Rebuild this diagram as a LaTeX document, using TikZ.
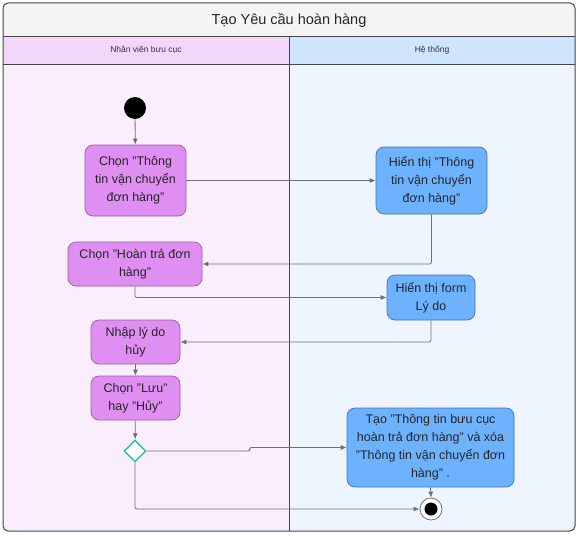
\documentclass[tikz,border=0pt]{standalone}
\usepackage{fontspec}
\setmainfont{Liberation Sans}
\usetikzlibrary{arrows.meta,shapes.geometric}
\definecolor{pfill}{RGB}{223,142,241}
\definecolor{pdraw}{RGB}{150,95,165}
\definecolor{bfill}{RGB}{108,178,255}
\definecolor{bdraw}{RGB}{70,115,170}
\definecolor{leftbg}{RGB}{250,238,253}
\definecolor{lefthd}{RGB}{242,215,250}
\definecolor{rightbg}{RGB}{238,245,254}
\definecolor{righthd}{RGB}{207,228,253}
\definecolor{titlebg}{RGB}{244,244,244}
\definecolor{frame}{RGB}{70,70,70}
\definecolor{conn}{RGB}{110,110,120}
\definecolor{dgreen}{RGB}{40,196,160}
\tikzset{
  act/.style={draw, line width=0.7pt, rounded corners=8pt, align=center, inner sep=0pt,
    font=\fontsize{12.5}{18}\selectfont, text=black!85},
  pbox/.style={act, fill=pfill, draw=pdraw},
  bbox/.style={act, fill=bfill, draw=bdraw},
  arr/.style={draw=conn, line width=0.8pt, rounded corners=2pt, -{Latex[length=6pt,width=5pt]}},
}
\begin{document}
\begin{tikzpicture}[x=1pt,y=-1pt]
\useasboundingbox (0,0) rectangle (580,535);
\fill[white] (0,0) rectangle (580,535);
\begin{scope}
\clip[rounded corners=5pt] (3,3) rectangle (575,531);
\fill[titlebg] (3,3) rectangle (575,36);
\fill[lefthd] (3,36) rectangle (289,64);
\fill[righthd] (289,36) rectangle (575,64);
\fill[leftbg] (3,64) rectangle (289,531);
\fill[rightbg] (289,64) rectangle (575,531);
\end{scope}
\draw[frame, line width=0.8pt] (3,36) -- (575,36);
\draw[frame, line width=0.8pt] (3,64) -- (575,64);
\draw[frame, line width=1pt] (289,36) -- (289,531);
\draw[frame, line width=1pt, rounded corners=5pt] (3,3) rectangle (575,531);
\node[font=\fontsize{14.5}{17}\selectfont, text=black!85] (title) at (289,20) {Tạo Yêu cầu hoàn hàng};
\node[font=\fontsize{8.5}{10}\selectfont, text=black!80] (lane1) at (146,50) {Nhân viên bưu cục};
\node[font=\fontsize{8.5}{10}\selectfont, text=black!80] (lane2) at (432,50) {Hệ thống};

\node[circle, fill=black, minimum size=22pt, inner sep=0pt] (start) at (135,108) {};
\node[pbox, minimum width=101pt, minimum height=71pt] (c1) at (135.5,180.5) {Chọn "Thông\\tin vận chuyển\\đơn hàng"};
\node[bbox, minimum width=111pt, minimum height=67pt] (h1) at (431.5,180.5) {Hiển thị "Thông\\tin vận chuyển\\đơn hàng"};
\node[pbox, minimum width=134pt, minimum height=44pt] (c2) at (135,264) {Chọn "Hoàn trả đơn\\hàng"};
\node[bbox, minimum width=88pt, minimum height=45pt] (h2) at (431,297.5) {Hiển thị form\\Lý do};
\node[pbox, minimum width=89pt, minimum height=44pt] (c3) at (135.5,342) {Nhập lý do\\hủy};
\node[pbox, minimum width=89pt, minimum height=44pt] (c4) at (135.5,398) {Chọn "Lưu"\\hay "Hủy"};
\node[diamond, draw=dgreen, line width=1.4pt, fill=white, minimum size=22pt, inner sep=0pt] (dec) at (135,451) {};
\node[bbox, minimum width=167pt, minimum height=79pt] (tao) at (430.5,447.5) {Tạo "Thông tin bưu cục\\hoàn trả đơn hàng" và xóa\\"Thông tin vận chuyển đơn\\hàng" .};
\node[circle, draw=black!55, line width=0.8pt, fill=white, minimum size=22pt, inner sep=0pt] (endo) at (431,509) {};
\node[circle, fill=black, minimum size=13pt, inner sep=0pt] (endi) at (431,509) {};

\draw[arr] (start) -- (c1);
\draw[arr] (c1) -- (h1);
\draw[arr] (h1.south) |- (c2.east);
\draw[arr] (c2.south) |- (h2.west);
\draw[arr] (h2.south) |- (c3.east);
\draw[arr] (c3) -- (c4);
\draw[arr] (c4) -- (dec);
\draw[arr] (dec.east) -- ++(103,0) |- (tao.west);
\draw[arr] (dec.south) |- (endo.west);
\draw[arr] (tao.south) -- (endo.north);
\end{tikzpicture}
\end{document}
